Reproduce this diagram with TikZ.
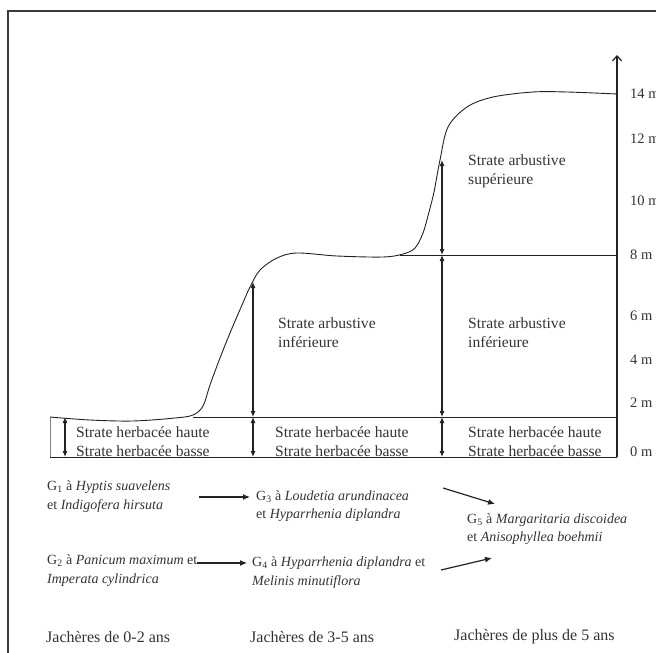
\documentclass[tikz,border=0pt]{standalone}
\usepackage{fontspec}
\setmainfont{Liberation Serif}
\usetikzlibrary{arrows.meta}
\definecolor{ln}{HTML}{222222}
\definecolor{fr}{HTML}{3A3A3A}
\definecolor{tx}{HTML}{333333}

\begin{document}
\begin{tikzpicture}[x=1pt,y=-1pt,
  lbl/.style={anchor=west,inner sep=0pt,align=left,text=tx,font=\fontsize{14}{19}\selectfont},
  strata/.style={lbl,font=\fontsize{15.6}{19}\selectfont},
  age/.style={lbl,font=\fontsize{16}{20}\selectfont},
  dbl/.style={ln,line width=1.1pt,{Latex[length=6pt,width=5pt]}-{Latex[length=6pt,width=5pt]}},
  flow/.style={ln,line width=1.2pt,-{Latex[length=7pt,width=6pt]}}]
\useasboundingbox (0,0) rectangle (656,653);
% frame
\draw[fr,line width=1.6pt] (8,653) -- (8,11) -- (656,11);
% height axis
\draw[ln,line width=1.2pt,-{Straight Barb[length=5pt,width=9pt]}] (617,457) -- (617,55);
\foreach \h/\y in {14/94,12/139,10/201,8/255,6/316,4/360,2/403,0/452}
  \node[lbl,font=\fontsize{14.5}{19}\selectfont] (m\h) at (630,\y) {\h~m};
% strata lines
\draw[ln,line width=1pt] (50,457) -- (617,457);
\draw[ln,line width=1pt] (193,417) -- (617,417);
\draw[ln,line width=1pt] (400,255) -- (617,255);
\draw[gray,line width=0.5pt] (50,417) -- (50,457);
% growth curve
\draw[ln,line width=0.9pt] plot[smooth,tension=0.55] coordinates {(50,417) (90,420) (133,421)
  (175,418) (193,415) (203,406) (210,385) (220,358) (230,333) (242,305) (250,287) (260,270)
  (277,258) (297,253) (337,256) (383,257) (403,254) (415,248) (423,233) (429,212) (434,192)
  (440,160) (448,127) (467,107) (493,97) (533,92) (567,92) (617,94)};
% height arrows
\coordinate (gA) at (65,457);  \coordinate (hA) at (65,417);
\coordinate (gB) at (253,457); \coordinate (hB) at (253,417); \coordinate (tB) at (253,282);
\coordinate (gC) at (442,457); \coordinate (hC) at (442,417); \coordinate (mC) at (442,255);
\coordinate (tC) at (442,160);
\draw[dbl] (gA) -- (hA);
\draw[dbl] (gB) -- (hB);
\draw[dbl] (gC) -- (hC);
\draw[dbl] (hB) -- (tB);
\draw[dbl] (hC) -- (mC);
\draw[dbl] (mC) -- (tC);
% strata names
\node[strata] (herbA) at (76,441.5) {Strate herbacée haute\\Strate herbacée basse};
\node[strata] (herbB) at (275,441.5) {Strate herbacée haute\\Strate herbacée basse};
\node[strata] (herbC) at (468,441.5) {Strate herbacée haute\\Strate herbacée basse};
\node[strata] (arbB) at (278,333) {Strate arbustive\\inférieure};
\node[strata] (arbC) at (468,332.5) {Strate arbustive\\inférieure};
\node[strata] (supC) at (468,171.5) {Strate arbustive\\supérieure};
% groups
\node[lbl] (G1a) at (47,487) {G\textsubscript{1} à \textit{Hyptis suavelens}};
\node[lbl] (G1b) at (47,506) {et \textit{Indigofera hirsuta}};
\node[lbl] (G3a) at (256,497) {G\textsubscript{3} à \textit{Loudetia arundinacea}};
\node[lbl] (G3b) at (256,515) {et \textit{Hyparrhenia diplandra}};
\node[lbl] (G5a) at (467,520) {G\textsubscript{5} à \textit{Margaritaria discoidea}};
\node[lbl] (G5b) at (467,538) {et \textit{Anisophyllea boehmii}};
\node[lbl] (G2a) at (47,561) {G\textsubscript{2} à \textit{Panicum maximum} et};
\node[lbl] (G2b) at (47,580) {\textit{Imperata cylindrica}};
\node[lbl] (G4a) at (252,563) {G\textsubscript{4} à \textit{Hyparrhenia diplandra} et};
\node[lbl] (G4b) at (252,582) {\textit{Melinis minutiflora}};
\draw[flow] ([shift={(-57,0)}]G3a.west) -- ([shift={(-6,0)}]G3a.west);
\draw[flow] ([shift={(-24,-32)}]G5a.west) -- ([shift={(28,-16)}]G5a.west);
\draw[flow] ([shift={(-55,0)}]G4a.west) -- ([shift={(-5,0)}]G4a.west);
\draw[flow] ([shift={(-26,32)}]G5b.west) -- ([shift={(25,20)}]G5b.west);
% fallow ages
\node[age] (ageA) at (46,637) {Jachères de 0-2 ans};
\node[age] (ageB) at (250,637) {Jachères de 3-5 ans};
\node[age] (ageC) at (454,637) {Jachères de plus de 5 ans};
\end{tikzpicture}
\end{document}
